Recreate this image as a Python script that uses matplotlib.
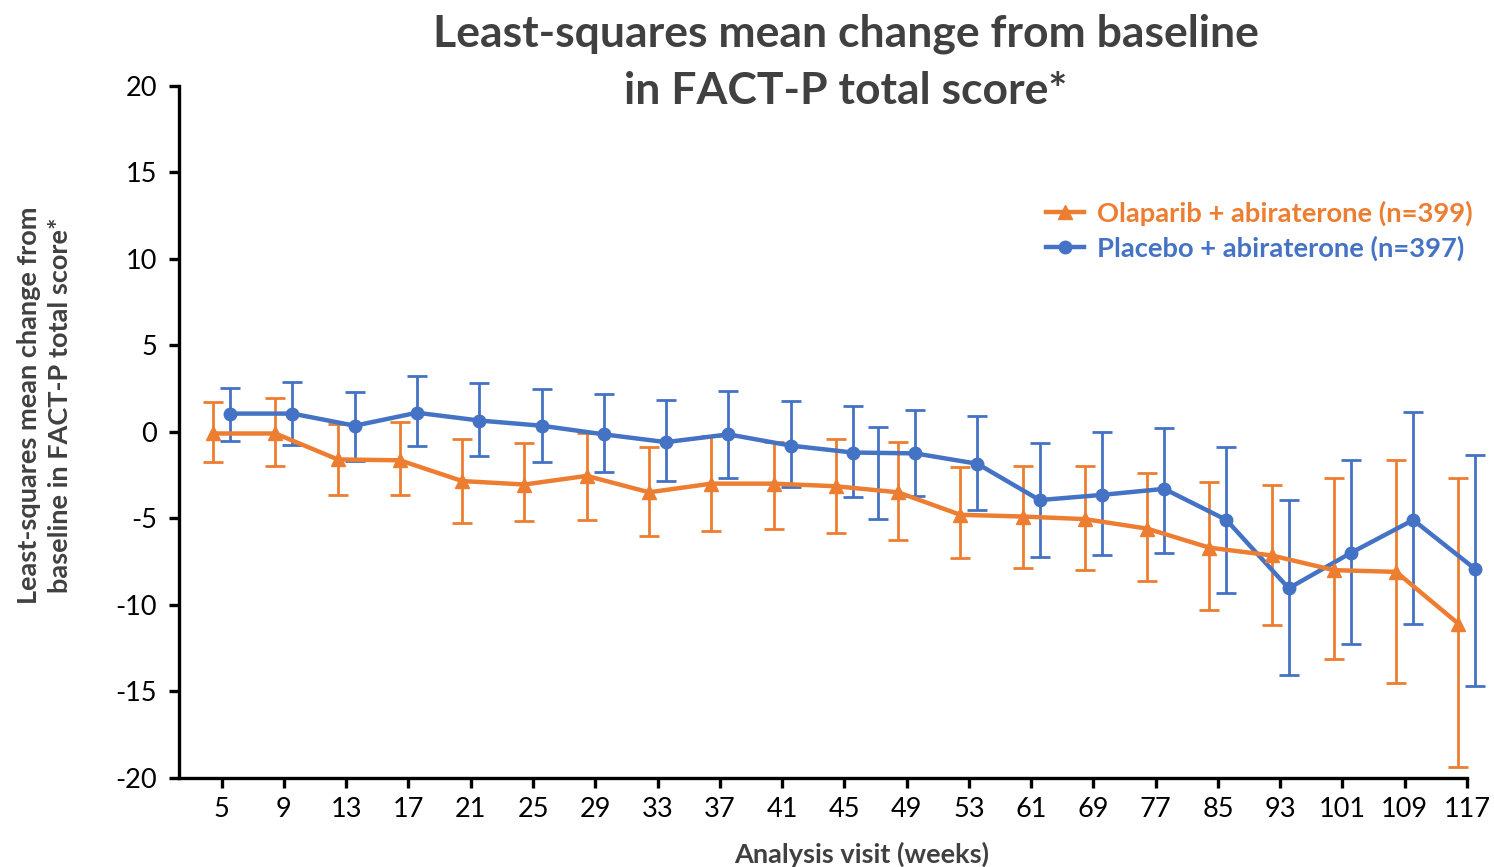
import numpy as np
import matplotlib
matplotlib.use("Agg")
import matplotlib.pyplot as plt

plt.rcParams['font.family'] = ['Lato', 'DejaVu Sans']
plt.rcParams['axes.unicode_minus'] = False

# analysis visits (weeks)
visits = ["5", "9", "13", "17", "21", "25", "29", "33", "37", "41", "45",
          "49", "53", "61", "69", "77", "85", "93", "101", "109", "117"]

# Olaparib + abiraterone: LS mean and 95% CI bounds
ola_mean = [-0.1, -0.1, -1.6, -1.65, -2.85, -3.05, -2.55, -3.5, -3.0, -3.0, -3.15,
            -3.5, -4.8, -4.9, -5.05, -5.6, -6.7, -7.15, -8.0, -8.1, -11.1]
ola_hi = [1.7, 1.95, 0.45, 0.55, -0.4, -0.65, -0.05, -0.9, -0.25, -0.6, -0.4,
          -0.6, -2.05, -2.0, -2.0, -2.4, -2.9, -3.05, -2.65, -1.65, -2.7]
ola_lo = [-1.75, -2.0, -3.65, -3.65, -5.25, -5.15, -5.1, -6.05, -5.75, -5.6, -5.85,
          -6.25, -7.3, -7.85, -8.0, -8.65, -10.3, -11.15, -13.15, -14.5, -19.4]

# Placebo + abiraterone: LS mean and 95% CI bounds
pbo_mean = [1.05, 1.05, 0.35, 1.1, 0.65, 0.35, -0.15, -0.6, -0.15, -0.8, -1.2,
            -1.25, -1.85, -3.95, -3.65, -3.3, -5.1, -9.05, -7.0, -5.1, -7.95]
pbo_hi = [2.55, 2.85, 2.3, 3.2, 2.8, 2.45, 2.2, 1.85, 2.35, 1.8, 1.5,
          1.25, 0.9, -0.65, 0.0, 0.2, -0.9, -3.95, -1.65, 1.15, -1.35]
pbo_lo = [-0.55, -0.75, -1.7, -0.85, -1.4, -1.75, -2.35, -2.85, -2.65, -3.2, -3.8,
          -3.7, -4.55, -7.25, -7.1, -7.0, -9.3, -14.05, -12.25, -11.1, -14.7]

# an extra placebo interval plotted between the week 45 and 49 visits
pbo_extra_pos = [10.4]
pbo_extra_hi = [0.25]
pbo_extra_lo = [-5.05]

orange = "#ED7D31"
blue = "#4472C4"
grey = "#404040"

x = np.arange(len(visits))
shift = 0.137

fig = plt.figure(figsize=(14.94, 8.67), dpi=100)
ax = fig.add_axes([0.1198, 0.103, 0.8621, 0.798])


def draw_errs(pos, mean, lo, hi, color):
    mean = np.asarray(mean)
    yerr = [mean - np.asarray(lo), np.asarray(hi) - mean]
    ax.errorbar(pos, mean, yerr=yerr, fmt="none", ecolor=color,
                elinewidth=2.0, capsize=7.5, capthick=2.0, clip_on=False, zorder=2)


draw_errs(x + shift, pbo_mean, pbo_lo, pbo_hi, blue)
extra_mid = (np.array(pbo_extra_hi) + np.array(pbo_extra_lo)) / 2
draw_errs(np.array(pbo_extra_pos) + shift, extra_mid, pbo_extra_lo, pbo_extra_hi, blue)
pbo_line, = ax.plot(x + shift, pbo_mean, color=blue, lw=3.2, marker="o", ms=9,
                    clip_on=False, zorder=3, label="Placebo + abiraterone (n=397)")

draw_errs(x - shift, ola_mean, ola_lo, ola_hi, orange)
ola_line, = ax.plot(x - shift, ola_mean, color=orange, lw=3.2, marker="^", ms=10,
                    clip_on=False, zorder=4, label="Olaparib + abiraterone (n=399)")

ax.set_xlim(-0.686, 20)
ax.set_ylim(-20, 20)
ax.set_xticks(x)
ax.set_xticklabels(visits)
ax.set_yticks(np.arange(-20, 21, 5))

for side in ["top", "right"]:
    ax.spines[side].set_visible(False)
for side in ["left", "bottom"]:
    ax.spines[side].set_linewidth(2.4)
    ax.spines[side].set_color("black")
ax.tick_params(axis="both", length=7, width=2.4, labelsize=19.5, colors="black")
ax.tick_params(axis="y", pad=9)
ax.tick_params(axis="x", pad=7)

ax.set_xlabel("Analysis visit (weeks)", fontsize=19.5, fontweight="bold", color=grey)
ax.xaxis.set_label_coords(0.53, -0.092)
ax.set_ylabel("Least-squares mean change from\nbaseline in FACT-P total score*",
              fontsize=19.5, fontweight="bold", color=grey, linespacing=1.35)
ax.yaxis.set_label_coords(-0.083, 0.538)

fig.text(0.566, 0.985, "Least-squares mean change from baseline\nin FACT-P total score*",
         ha="center", va="top", fontsize=32, fontweight="bold", color=grey,
         linespacing=1.52)

leg = ax.legend(handles=[ola_line, pbo_line], loc="upper right",
                bbox_to_anchor=(1.002, 0.797), bbox_transform=fig.transFigure,
                frameon=False, fontsize=19.7, handlelength=1.4, handletextpad=0.45,
                labelspacing=0.35)
for txt, col in zip(leg.get_texts(), [orange, blue]):
    txt.set_color(col)
    txt.set_fontweight("bold")

fig.savefig("out.png", dpi=100)
